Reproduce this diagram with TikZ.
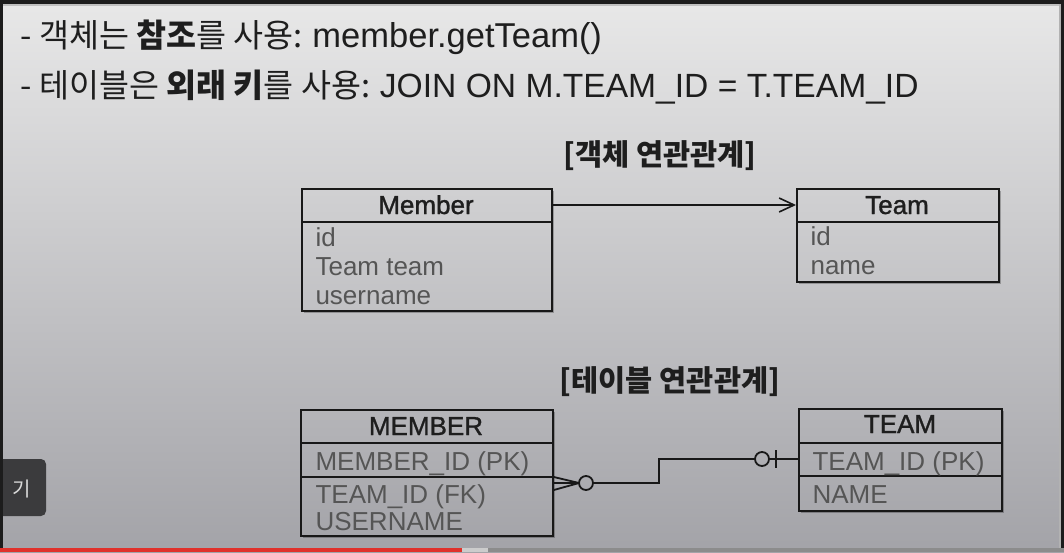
\documentclass[tikz,border=0pt]{standalone}
\usepackage{fontspec}
\setmainfont{Noto Sans CJK KR}
\newfontfamily\lat{Liberation Sans}
\newfontfamily\hdrf{Liberation Sans}[FakeBold=1.2]
\usetikzlibrary{arrows.meta}
\newcommand\fsz[1]{\fontsize{#1}{#1}\selectfont}
\definecolor{bgtop}{HTML}{E8E8E8}
\definecolor{bgmid}{HTML}{CDCDCF}
\definecolor{bgbot}{HTML}{A3A3A8}
\definecolor{frame}{HTML}{1C1C1C}
\definecolor{txt}{HTML}{1E1E1E}
\definecolor{attr}{HTML}{555555}
\definecolor{edge}{HTML}{181818}
\definecolor{btn}{HTML}{3B3B3D}
\definecolor{ytred}{HTML}{E0312B}
\tikzset{
  box/.style={draw=edge, line width=1.8pt, anchor=north west, inner sep=0pt},
  sepline/.style={draw=edge, line width=1.8pt},
  boxshadow/.style={draw=black, opacity=0.25, line width=2pt},
  hdr/.style={font=\hdrf\fsz{26}, text=txt, anchor=base},
  att/.style={font=\lat\fsz{26}, text=attr, anchor=base west},
  title/.style={font=\fsz{29.5}\bfseries, text=txt, anchor=center},
  conn/.style={draw=edge, line width=1.8pt},
  headline/.style={font=\fsz{32.6}, text=txt, anchor=base west}
}
\begin{document}
\begin{tikzpicture}[x=1pt,y=-1pt]
\useasboundingbox (0,0) rectangle (1064,552);
% background
\shade[top color=bgtop, middle color=bgmid, bottom color=bgbot] (0,0) rectangle (1064,552);
\fill[frame] (0,0) rectangle (1064,4);
\fill[black!25] (3,4) rectangle (1061,6);
\fill[frame] (0,0) rectangle (3,552);
\fill[black!30] (1059,4) rectangle (1061,548);
\fill[frame] (1061,0) rectangle (1064,552);

% headline text
\node[headline] (l1) at (17,47) {- 객체는 \textbf{참조}를 사용: {\lat\fsz{34.5}member.getTeam()}};
\node[headline] (l2) at (17,97) {- 테이블은 \textbf{외래 키}를 사용: {\lat\fsz{33.6}JOIN ON M.TEAM\_ID = T.TEAM\_ID}};

% ---------- object association ----------
\node[title] (t1) at (660,156) {[객체 연관관계]};

\draw[boxshadow] (304,312) -- (553,312) -- (553,191);
\node[box, minimum width=250pt, minimum height=122pt] (mbox) at (301,188) {};
\draw[sepline] (301,222) -- (551,222);
\node[hdr] (mh) at (426,214) {Member};
\node[att] (m1) at (312,246) {id};
\node[att] (m2) at (312,275) {Team team};
\node[att] (m3) at (312,304) {username};

\draw[boxshadow] (799,283) -- (1000,283) -- (1000,191);
\node[box, minimum width=202pt, minimum height=93pt] (tbox) at (796,188) {};
\draw[sepline] (796,222) -- (998,222);
\node[hdr] (th) at (897,214) {Team};
\node[att] (t1a) at (807,245) {id};
\node[att] (t2a) at (807,274) {name};

\draw[conn, -{Straight Barb[length=15pt, width=14pt, line width=1.6pt]}] (mbox.east |- 0,205) -- (tbox.west |- 0,205);

% ---------- table association ----------
\node[title] (t2) at (670,382) {[테이블 연관관계]};

\draw[boxshadow] (303,537) -- (554,537) -- (554,412);
\node[box, minimum width=252pt, minimum height=126pt] (MBOX) at (300,409) {};
\draw[sepline] (300,443) -- (552,443);
\draw[sepline] (300,477) -- (552,477);
\node[hdr] (MH) at (426,435) {MEMBER};
\node[att] (M1) at (312,470) {MEMBER\_ID (PK)};
\node[att] (M2) at (312,503) {TEAM\_ID (FK)};
\node[att] (M3) at (312,530) {USERNAME};

\draw[boxshadow] (801,512) -- (1003,512) -- (1003,411);
\node[box, minimum width=203pt, minimum height=102pt] (TBOX) at (798,408) {};
\draw[sepline] (798,443) -- (1001,443);
\draw[sepline] (798,476) -- (1001,476);
\node[hdr] (TH) at (900,433) {TEAM};
\node[att] (T1) at (809,470) {TEAM\_ID (PK)};
\node[att] (T2) at (809,503) {NAME};

% crow's foot (many, optional) at MEMBER
\coordinate (cfTip) at (579,483);
\node[draw=edge, line width=1.8pt, circle, minimum size=14pt, inner sep=0pt] (c1) at (586,483) {};
\draw[conn] (MBOX.east |- 0,477) -- (cfTip);
\draw[conn] (MBOX.east |- 0,483) -- (cfTip);
\draw[conn] (MBOX.east |- 0,490) -- (cfTip);
% one, optional at TEAM
\node[draw=edge, line width=1.8pt, circle, minimum size=14pt, inner sep=0pt] (c2) at (762,459) {};
\coordinate (bend1) at (659,483);
\coordinate (bend2) at (659,459);
\draw[conn] (c1.east) -- (bend1) -- (bend2) -- (c2.west);
\draw[conn] (c2.east) -- (TBOX.west |- c2);
\draw[conn] (776,450) -- (776,468);

% ---------- video overlay ----------
\begin{scope}
\clip (3,0) rectangle (1064,552);
\fill[btn, rounded corners=5pt] (-10,459) rectangle (46,516);
\end{scope}
\node[font=\fsz{20}, text=black!15, anchor=base west] (btntxt) at (9,496) {기};
\fill[black!45] (0,548) rectangle (1064,552);
\fill[black!20] (462,548) rectangle (488,552);
\fill[ytred] (0,548) rectangle (462,552);
\end{tikzpicture}
\end{document}
